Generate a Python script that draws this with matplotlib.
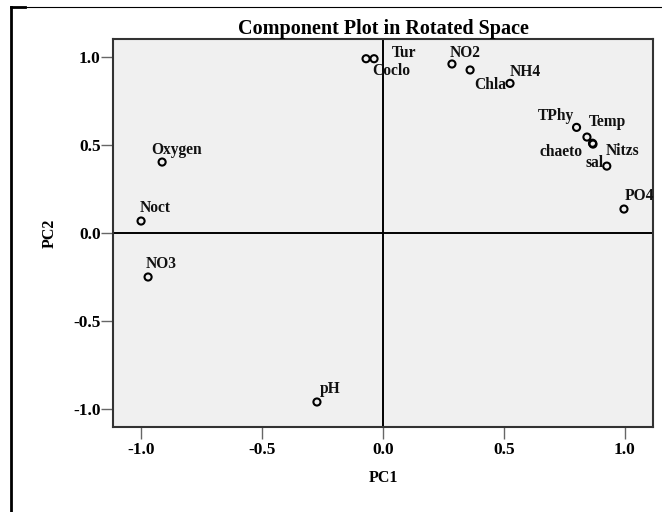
import numpy as np
import matplotlib.pyplot as plt
from matplotlib.lines import Line2D

# loadings
names = ['Tur', 'Coclo', 'NO2', 'Chla', 'NH4', 'TPhy', 'Temp', 'chaeto', 'Nitzs',
         'sal', 'PO4', 'Oxygen', 'Noct', 'NO3', 'pH']
pc1 = [-0.037, -0.07, 0.285, 0.36, 0.525, 0.80, 0.843, 0.866, 0.868,
       0.925, 0.996, -0.913, -1.0, -0.971, -0.273]
pc2 = [0.99, 0.99, 0.96, 0.926, 0.85, 0.60, 0.545, 0.51, 0.505,
       0.38, 0.136, 0.403, 0.068, -0.25, -0.96]

# label offsets in points (label placement only)
offs = [(13, 1.5), (4.3, -12), (-1.4, 5), (3, -13.5), (0, 5), (-28, 5), (1.4, 8), (-38, -9.4), (9.4, -8),
        (-15, -1), (0.7, 6.5), (-8, 6), (-0.7, 6.5), (-1.4, 6.5), (2, 6.5)]

plt.rcParams['font.family'] = ['Liberation Serif', 'DejaVu Serif']
plt.rcParams['font.weight'] = 'bold'

fig = plt.figure(figsize=(6.62, 5.12), dpi=100)
ax = fig.add_axes([113/662, 1-427/512, 540/662, 388/512])
ax.set_facecolor('#f0f0f0')

ax.axhline(0, color='black', lw=1.4, zorder=1)
ax.axvline(0, color='black', lw=1.4, zorder=1)
ax.scatter(pc1, pc2, s=26, facecolors='none', edgecolors='black', linewidths=1.5, zorder=3)
for n, x, y, o in zip(names, pc1, pc2, offs):
    ax.annotate(n, (x, y), xytext=o, textcoords='offset points', fontsize=11.2,
                fontweight='bold', color='#111111')

ax.set_xlim(-1.116, 1.116)
ax.set_ylim(-1.102, 1.102)
ax.set_xticks([-1.0, -0.5, 0.0, 0.5, 1.0])
ax.set_yticks([-1.0, -0.5, 0.0, 0.5, 1.0])
ax.set_xticklabels(['-1.0', '-0.5', '0.0', '0.5', '1.0'])
ax.set_yticklabels(['-1.0', '-0.5', '0.0', '0.5', '1.0'])
ax.tick_params(direction='out', length=8.5, width=1, color='#666666', labelsize=12.5)
ax.tick_params(axis='x', pad=2.5)
ax.tick_params(axis='y', pad=0.5)
for sp in ax.spines.values():
    sp.set_color('#333333')
    sp.set_linewidth(1.5)

ax.set_xlabel('PC1', fontsize=11.5, fontweight='bold')
ax.set_ylabel('PC2', fontsize=11.5, fontweight='bold')
ax.xaxis.set_label_coords(0.5, -0.111)
ax.yaxis.set_label_coords(-0.102, 0.5)
ax.set_title('Component Plot in Rotated Space', fontsize=14.5, fontweight='bold', pad=3)

# outer frame fragments
fig.add_artist(Line2D([11/662, 11/662], [0, 1-7/512], transform=fig.transFigure, color='black', lw=2))
fig.add_artist(Line2D([11/662, 1], [1-7/512, 1-7/512], transform=fig.transFigure, color='black', lw=0.8))
fig.add_artist(Line2D([11/662, 25/662], [1-7/512, 1-7/512], transform=fig.transFigure, color='black', lw=2))

fig.savefig('out.png', dpi=100)
